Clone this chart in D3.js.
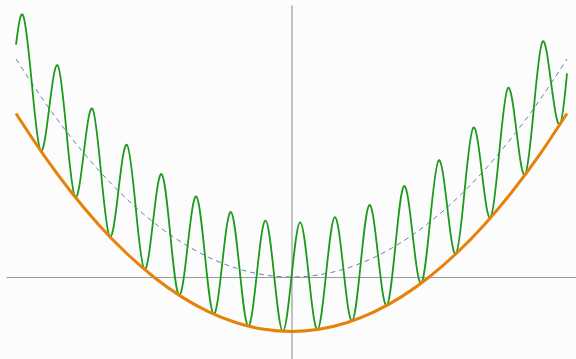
<!DOCTYPE html>
<html>
<head>
<meta charset="utf-8">
<script src="https://cdn.jsdelivr.net/npm/d3@7"></script>
<style>
  html, body { margin: 0; padding: 0; background: #fcfcfc; }
  svg { display: block; }
</style>
</head>
<body>
<script>
// Parabola y = x^2 and its lower envelope (shifted down by 0.25)
const parabolaX = [-1, -0.9, -0.8, -0.7, -0.6, -0.5, -0.4, -0.3, -0.2, -0.1, 0,
                   0.1, 0.2, 0.3, 0.4, 0.5, 0.6, 0.7, 0.8, 0.9, 1];
const parabolaY = [1, 0.81, 0.64, 0.49, 0.36, 0.25, 0.16, 0.09, 0.04, 0.01, 0,
                   0.01, 0.04, 0.09, 0.16, 0.25, 0.36, 0.49, 0.64, 0.81, 1];
const envelopeY = [0.75, 0.56, 0.39, 0.24, 0.11, 0, -0.09, -0.16, -0.21, -0.24, -0.25,
                   -0.24, -0.21, -0.16, -0.09, 0, 0.11, 0.24, 0.39, 0.56, 0.75];

// Oscillating curve: peaks, troughs and mid-crossings
const waveX = [-1,
  -0.9739, -0.9425, -0.9111, -0.8796, -0.8482, -0.8168, -0.7854, -0.7540,
  -0.7226, -0.6912, -0.6597, -0.6283, -0.5969, -0.5655, -0.5341, -0.5027,
  -0.4712, -0.4398, -0.4084, -0.3770, -0.3456, -0.3142, -0.2827, -0.2513,
  -0.2199, -0.1885, -0.1571, -0.1257, -0.0942, -0.0628, -0.0314, 0,
  0.0314, 0.0628, 0.0942, 0.1257, 0.1571, 0.1885, 0.2199, 0.2513,
  0.2827, 0.3142, 0.3456, 0.3770, 0.4084, 0.4398, 0.4712, 0.5027,
  0.5341, 0.5655, 0.5969, 0.6283, 0.6597, 0.6912, 0.7226, 0.7540,
  0.7854, 0.8168, 0.8482, 0.8796, 0.9111, 0.9425, 0.9739, 1];
const waveY = [1.066,
  1.199, 0.888, 0.580, 0.774, 0.970, 0.667, 0.367, 0.569,
  0.772, 0.478, 0.185, 0.395, 0.606, 0.320, 0.035, 0.253,
  0.472, 0.193, -0.083, 0.142, 0.369, 0.099, -0.170, 0.063,
  0.298, 0.036, -0.225, 0.016, 0.259, 0.004, -0.249, 0,
  0.251, 0.004, -0.241, 0.016, 0.275, 0.036, -0.202, 0.063,
  0.330, 0.099, -0.131, 0.142, 0.417, 0.193, -0.028, 0.253,
  0.535, 0.320, 0.106, 0.395, 0.685, 0.478, 0.272, 0.569,
  0.867, 0.667, 0.470, 0.774, 1.080, 0.888, 0.699, 0.934];

// Extent of the drawn axes in data units
const xAxisExtent = [-1.036, 1.033];
const yAxisExtent = [-0.376, 1.248];

const W = 576, H = 359;
const svg = d3.select("body").append("svg").attr("width", W).attr("height", H);

const x = d3.scaleLinear().domain([-1, 1]).range([16, 567]);
const y = d3.scaleLinear().domain([0, 1]).range([277, 59]);

// Axes crossing at the origin, no ticks
const xAxisScale = d3.scaleLinear().domain(xAxisExtent).range(xAxisExtent.map(x));
const yAxisScale = d3.scaleLinear().domain(yAxisExtent).range(yAxisExtent.map(y));

svg.append("g")
  .attr("transform", `translate(0,${y(0)})`)
  .call(d3.axisBottom(xAxisScale).ticks(0).tickSizeOuter(0))
  .call(g => g.select(".domain").attr("stroke", "#9a9a9a").attr("stroke-width", 1.2));

svg.append("g")
  .attr("transform", `translate(${x(0)},0)`)
  .call(d3.axisLeft(yAxisScale).ticks(0).tickSizeOuter(0))
  .call(g => g.select(".domain").attr("stroke", "#9a9a9a").attr("stroke-width", 1.2));

const line = d3.line().x(d => x(d[0])).y(d => y(d[1])).curve(d3.curveNatural);

// Dashed parabola
svg.append("path")
  .datum(d3.zip(parabolaX, parabolaY))
  .attr("d", line)
  .attr("fill", "none")
  .attr("stroke", "#5b82c4")
  .attr("stroke-width", 1)
  .attr("stroke-dasharray", "5,4");

// Oscillating curve
svg.append("path")
  .datum(d3.zip(waveX, waveY))
  .attr("d", line)
  .attr("fill", "none")
  .attr("stroke", "#1c9a1c")
  .attr("stroke-width", 1.8);

// Lower envelope
svg.append("path")
  .datum(d3.zip(parabolaX, envelopeY))
  .attr("d", line)
  .attr("fill", "none")
  .attr("stroke", "#e6820a")
  .attr("stroke-width", 3);
</script>
</body>
</html>
